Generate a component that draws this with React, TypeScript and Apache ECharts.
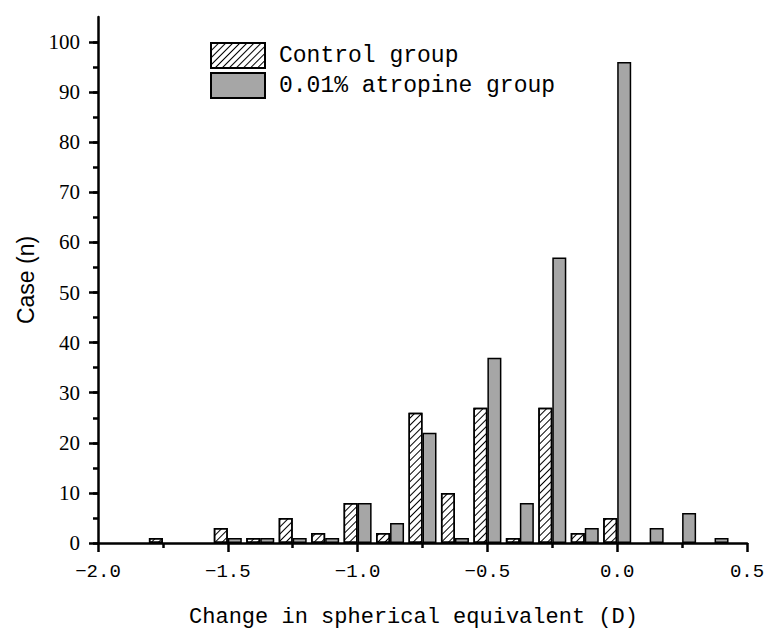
import React, { useEffect, useRef } from "react";
import * as echarts from "echarts";

const positions = [-1.75, -1.625, -1.5, -1.375, -1.25, -1.125, -1.0, -0.875, -0.75, -0.625, -0.5, -0.375, -0.25, -0.125, 0.0, 0.125, 0.25, 0.375];
const controlGroup = [1, 0, 3, 1, 5, 2, 8, 2, 26, 10, 27, 1, 27, 2, 5, 0, 0, 0];
const atropineGroup = [0, 0, 1, 1, 1, 1, 8, 4, 22, 1, 37, 8, 57, 3, 96, 3, 6, 1];
const seriesNames = ["Control group", "0.01% atropine group"];
const yMajorTicks = [0, 10, 20, 30, 40, 50, 60, 70, 80, 90, 100];
const yMinorTicks = [0, 5, 10, 15, 20, 25, 30, 35, 40, 45, 50, 55, 60, 65, 70, 75, 80, 85, 90, 95, 100];

const mono = "'Liberation Mono', 'DejaVu Sans Mono', monospace";
const serif = "'Liberation Serif', 'DejaVu Serif', serif";
const sans = "'Liberation Sans', Arial, sans-serif";

export default function App() {
  const ref = useRef<HTMLDivElement>(null);
  useEffect(() => {
    if (!ref.current) return;
    const chart = echarts.init(ref.current, null, { renderer: "svg" });
    const toData = (vals: number[]) =>
      positions.map((p, i) => (vals[i] > 0 ? [p, vals[i]] : [p, "-"]));
    chart.setOption({
      animation: false,
      backgroundColor: "#ffffff",
      grid: { left: 98, right: 31, top: 17, bottom: 97, containLabel: false },
      legend: {
        orient: "vertical",
        left: 205,
        top: 37,
        icon: "rect",
        itemWidth: 54,
        itemHeight: 25,
        itemGap: 3,
        selectedMode: false,
        textStyle: { fontFamily: mono, fontSize: 23, color: "#000", padding: [0, 0, 0, 9] },
        data: seriesNames,
      },
      xAxis: {
        type: "value",
        min: -2,
        max: 0.5,
        interval: 0.5,
        name: "Change in spherical equivalent (D)",
        nameLocation: "middle",
        nameGap: 63,
        nameTextStyle: { fontFamily: mono, fontSize: 22, color: "#000", padding: [0, 18, 0, 0] },
        axisLine: { show: true, onZero: false, lineStyle: { color: "#000", width: 2.5 } },
        axisTick: { show: true, inside: false, length: 9, lineStyle: { color: "#000", width: 2.5 } },
        minorTick: { show: true, splitNumber: 2, length: 5, lineStyle: { color: "#000", width: 2.5 } },
        splitLine: { show: false },
        minorSplitLine: { show: false },
        axisLabel: {
          margin: 19,
          fontFamily: mono,
          fontSize: 19,
          color: "#000",
          formatter: (v: number) => v.toFixed(1).replace("-", "−"),
        },
      },
      yAxis: [
        {
          type: "value",
          min: 0,
          max: 105,
          position: "left",
          name: "Case (n)",
          nameLocation: "middle",
          nameGap: 58,
          nameTextStyle: { fontFamily: sans, fontSize: 23, color: "#000" },
          axisLine: { show: true, onZero: false, lineStyle: { color: "#000", width: 2.5 } },
          axisTick: {
            show: true,
            inside: false,
            length: 9,
            customValues: yMajorTicks,
            lineStyle: { color: "#000", width: 2.5 },
          },
          splitLine: { show: false },
          axisLabel: {
            margin: 18,
            fontFamily: serif,
            fontSize: 21,
            color: "#000",
            customValues: yMajorTicks,
          },
        },
        {
          type: "value",
          min: 0,
          max: 105,
          position: "left",
          axisLine: { show: false, onZero: false },
          axisTick: {
            show: true,
            inside: false,
            length: 5,
            customValues: yMinorTicks,
            lineStyle: { color: "#000", width: 2.5 },
          },
          axisLabel: { show: false },
          splitLine: { show: false },
        },
      ],
      series: [
        {
          name: seriesNames[0],
          type: "bar",
          yAxisIndex: 0,
          barWidth: 14,
          barGap: "0%",
          data: toData(controlGroup),
          itemStyle: {
            color: "#ffffff",
            borderColor: "#000",
            borderWidth: 1.5,
            decal: {
              symbol: "rect",
              symbolSize: 1,
              color: "#000000",
              backgroundColor: "#ffffff",
              dashArrayX: [1, 0],
              dashArrayY: [1, 4],
              rotation: -Math.PI / 4,
            },
          },
        },
        {
          name: seriesNames[1],
          type: "bar",
          yAxisIndex: 0,
          barWidth: 14,
          barGap: "0%",
          data: toData(atropineGroup),
          itemStyle: { color: "#a6a6a6", borderColor: "#000", borderWidth: 1.5 },
        },
      ],
    });
    return () => chart.dispose();
  }, []);
  return (
    <div
      ref={ref}
      style={{ position: "fixed", left: 0, top: 0, width: 778, height: 640, background: "#fff" }}
    />
  );
}
